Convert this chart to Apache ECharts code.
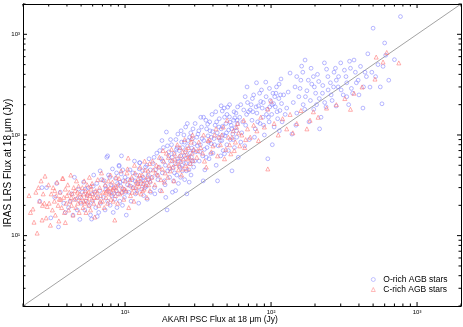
<!DOCTYPE html>
<html>
<head>
<meta charset="utf-8">
<script src="https://cdn.jsdelivr.net/npm/echarts@6/dist/echarts.min.js"></script>
<style>
html, body { margin: 0; padding: 0; background: #fff; }
#chart { width: 463px; height: 327px; }
</style>
</head>
<body>
<div id="chart"></div>
<script>
// AKARI 18um flux (x) vs IRAS LRS 18um flux (y), Jy
var oRich = [
  [2.7,30],[2.9,30],[3.1,15],[3.5,12.2],[3.3,24],[3.8,21],[3.6,27],[2.6,22],[3.9,17],[3.4,33],
  [4.1,19],[4.3,26],[4.4,16],[4.6,23],[4.8,29],[4.9,14.5],[5.0,21],[5.2,34],[5.3,18],[5.5,25],
  [5.6,30],[5.8,16],[5.9,14.6],[6.0,22],[6.1,40],[6.2,27],[6.3,19],[6.4,33],[6.5,24],[6.6,17],
  [6.7,28],[6.8,21],[6.9,36],[4.5,38],[5.1,27],[5.4,22],[5.7,20],[6.05,31],[4.2,22],[4.7,18],
  [5.95,26],[6.45,15.5],[6.75,44],[4.95,24],[5.35,29],
  [7.1,24],[7.2,35],[7.3,18],[7.4,29],[7.5,60],[7.6,22],[7.7,40],[7.8,27],[7.9,20],[8.0,32],
  [8.1,25],[8.2,46],[8.3,17],[8.4,30],[8.5,23],[8.6,37],[8.7,28],[8.8,19],[8.9,33],[9.0,26],
  [9.1,50],[9.2,22],[9.3,31],[9.4,41],[9.5,27],[9.6,20],[9.7,35],[9.8,29],[9.9,24],[10.0,38],
  [10.2,16],[10.4,32],[10.6,27],[10.8,45],[11.0,22],[11.2,36],[11.4,30],[11.6,55],[11.8,26],[12.0,40],
  [12.2,33],[12.4,21],[12.6,53],[12.8,37],[13.0,29],[13.2,44],[13.4,25],[13.6,35],[13.8,48],[14.0,31],
  [14.2,23],[14.4,40],[14.6,58],[14.8,34],[15.0,27],[7.35,31],[7.85,38],[8.35,26],[8.75,42],[9.25,34],
  [9.65,45],[10.1,27],[10.5,36],[10.9,31],[11.3,42],[11.7,35],[12.1,28],[12.5,46],[12.9,33],[13.3,38],
  [13.7,30],[14.1,50],[14.5,36],[14.9,45],[9.45,62],[7.6,62],[9.1,49],[12.6,53],
  [15.3,38],[15.6,52],[15.9,30],[16.2,45],[16.5,66],[16.8,36],[17.1,48],[17.4,28],[17.7,58],[18.0,42],
  [18.3,75],[18.6,35],[18.9,50],[19.2,107],[19.4,18],[19.6,44],[19.9,62],[20.2,38],[20.5,55],[20.8,80],
  [21.1,27],[21.4,47],[21.7,66],[22.0,52],[22.3,90],[22.6,40],[22.9,58],[23.2,33],[23.5,70],[23.8,48],
  [24.1,62],[24.4,85],[24.7,44],[25.0,56],[25.3,100],[25.6,36],[25.9,68],[26.2,52],[26.5,26],[26.8,78],
  [27.1,60],[27.4,45],[27.7,95],[28.0,66],[28.3,40],[28.6,74],[28.9,55],[29.2,115],[29.5,48],[29.8,82],
  [15.8,60],[16.6,40],[17.3,70],[18.1,55],[18.8,32],[19.5,78],[20.3,46],[21.0,60],[21.8,42],[22.5,72],
  [23.3,55],[24.0,38],[24.8,75],[25.5,62],[26.3,44],[27.0,88],[27.8,52],[28.5,60],[29.3,70],[16.0,26],
  [17.9,88],[20.0,68],[21.5,35],[23.0,102],[24.5,50],[26.0,120],[27.5,34],[29.0,92],[22.2,28],[19.0,24],
  [20.5,90],[22.8,75],[25.5,85],[28.2,105],[26.7,130],[24.2,110],
  [30.5,68],[31.0,95],[31.6,102],[32.2,55],[32.8,80],[33.4,120],[34.0,62],[34.6,88],[35.2,45],[35.8,140],
  [36.4,75],[37.0,98],[37.6,58],[38.2,110],[38.8,82],[39.4,160],[40.0,66],[40.7,92],[41.4,125],[42.1,50],
  [42.8,105],[43.5,78],[44.2,145],[44.9,88],[45.6,115],[46.3,173],[47.0,70],[47.7,185],[48.4,98],[49.1,130],
  [49.8,80],[50.5,189],[51.2,112],[51.9,151],[52.6,90],[53.3,125],[54.0,44],[54.7,102],[55.4,140],[56.1,75],
  [56.8,118],[57.5,165],[58.2,95],[58.9,130],[59.6,60],[31.3,78],[32.5,68],[33.7,92],[35.0,72],[36.2,115],
  [37.4,85],[38.6,65],[39.8,108],[41.0,80],[42.4,135],[43.8,95],[45.2,62],[46.6,122],[48.0,150],[49.5,105],
  [51.0,70],[52.3,134],[53.8,115],[55.0,90],[56.5,148],[58.0,110],[59.0,190],[34.3,35],[43.0,35],[46.0,88],
  [30.2,130],[32,110],[34.5,150],[36.8,128],[39,95],[41.8,170],[44,120],[46.8,100],[49.9,160],[52,200],
  [55.8,170],[58.5,140],[45.5,195],[38,135],[33,150],[30,55],[36,60],[48,65],
  [61,150],[63,105],[65,177],[67,125],[69,210],[71,90],[72,177],[74,140],[76,250],[78,115],
  [80,165],[82,195],[84,130],[86,280],[88,150],[90,100],[92,335],[94,180],[95,58],[97,135],
  [99,220],[101,160],[103,260],[105,120],[107,190],[109,300],[111,145],[113,230],[115,175],[117,360],
  [119,135],[64,135],[68,160],[73,200],[77,95],[81,135],[85,215],[89,125],[93,160],[98,190],
  [102,80],[106,240],[110,170],[114,110],[118,205],[66,78],[75,170],[87,185],[96,150],[104,205],
  [62,200],[66.5,240],[70,170],[74.5,230],[79,190],[83.5,260],[88.5,210],[92.5,240],[97.5,290],[101.5,200],
  [108,260],[113.5,320],[116,250],[68.5,300],[79.5,330],[62,85],
  [122,250],[128,185],[131,267],[135,412],[139,102],[142,210],[146,300],[150,165],[155,240],[160,350],
  [162,483],[166,200],[171,555],[176,275],[182,135],[186,220],[190,320],[196,180],[202,260],[208,400],
  [214,230],[220,150],[226,310],[233,210],[240,450],[246,280],[125,160],[148,125],[170,180],[195,380],
  [215,115],[238,190],
  [150,380],[158,290],[165,420],[172,240],[180,350],[188,460],[198,300],[205,200],[212,340],[225,260],
  [232,520],[245,380],
  [255,330],[262,220],[270,420],[279,194],[288,300],[300,520],[312,250],[326,380],[340,200],[355,290],
  [370,555],[384,330],[400,250],[426,185],[440,420],[476,299],[500,1150],[520,380],[575,204],[600,820],
  [585,480],[640,350],[700,560],[770,1500],[460,640],[350,460],
  [258,250],[268,300],[276,460],[290,380],[302,280],[318,440],[330,330],[345,540],[362,260],[378,420],
  [395,350],[410,480],[430,300],[450,380],[490,420],[540,500],[560,300],[610,620],[330,240],[280,350]
];

var cRich = [
  [2.25,17],[2.34,18.4],[2.38,13.6],[2.45,27],[2.5,10.6],[2.55,30],[2.66,35],[2.7,14.3],[2.75,26],[2.83,39],
  [2.88,15],[2.93,19.5],[2.99,32],[2.6,22],[2.8,21],[2.2,25],[2.72,20],
  [3.02,21],[3.08,12.7],[3.12,26],[3.18,18],[3.22,30],[3.28,22],[3.33,16],[3.38,25],[3.42,34],[3.48,20],
  [3.52,14],[3.58,27],[3.62,23],[3.68,19],[3.72,37],[3.76,37],[3.8,24],[3.85,17],[3.9,29],[3.95,21],
  [4.0,25],[4.05,32],[4.1,18],[4.15,27],[4.2,22],[4.25,40],[4.3,20],[4.35,26],[4.4,16],[4.45,30],
  [4.5,23],[4.55,28],[4.6,19],[4.65,35],[4.7,24],[4.75,21],[4.8,31],[4.85,17],[4.9,26],[4.95,22],
  [3.3,28],[3.55,23],[3.9,13.5],[4.28,24],[4.72,27],
  [5.05,24],[5.1,30],[5.15,19],[5.2,26],[5.25,35],[5.3,21],[5.35,28],[5.4,17],[5.45,24],[5.5,32],
  [5.55,22],[5.6,27],[5.65,20],[5.7,38],[5.75,25],[5.8,18],[5.85,29],[5.9,23],[5.95,33],[6.0,26],
  [6.1,21],[6.2,15.3],[6.3,28],[6.4,24],[6.5,36],[6.6,20],[6.7,30],[6.8,25],[6.9,42],[7.0,22],
  [7.1,27],[7.2,19],[7.3,32],[7.4,24],[7.5,28],[7.6,21],[7.7,35],[7.8,26],[7.9,30],[8.0,23],
  [5.22,22],[5.52,26],[5.82,31],[6.15,24],[6.45,27],[6.75,22],[7.05,36],[7.35,27],[7.65,29],[7.95,40],
  [8.1,27],[8.2,34],[8.3,22],[8.4,30],[8.5,14.3],[8.6,25],[8.7,38],[8.8,28],[8.9,21],[9.0,32],
  [9.2,26],[9.4,44],[9.6,30],[9.8,23],[10.0,35],[10.2,28],[10.5,59],[10.7,32],[10.9,25],[11.1,38],
  [11.3,30],[11.5,22],[11.7,42],[11.9,34],[12.1,27],[12.3,37],[12.5,31],[12.7,48],[12.9,26],[13.1,40],
  [13.3,33],[13.5,29],[13.7,45],[13.9,36],[14.1,24],[14.3,39],[14.5,32],[14.7,52],[14.9,35],[8.25,29],
  [8.65,31],[9.1,37],[9.5,27],[9.9,29],[10.3,42],[10.8,36],[11.2,27],[11.8,30],[12.2,33],[12.8,35],
  [13.2,28],[13.8,32],[14.4,44],[14.8,28],[10.6,19],
  [10.4,46],[11.6,50],[12.6,40],[13.6,55],
  [15.2,38],[15.6,45],[16.0,32],[16.4,50],[16.8,40],[17.2,60],[17.6,36],[18.0,46],[18.4,55],[18.8,42],
  [19.2,66],[19.6,38],[20.0,50],[20.4,44],[20.8,72],[21.2,48],[21.6,35],[22.0,58],[22.4,52],[22.8,80],
  [23.2,45],[23.6,62],[24.0,55],[24.4,40],[24.8,68],[25.2,58],[25.6,90],[26.0,50],[26.4,64],[26.8,46],
  [27.2,75],[27.6,60],[28.0,52],[28.4,85],[28.8,66],[29.2,56],[29.6,72],[16.2,42],[18.6,34],[21.0,56],
  [23.5,50],[25.0,46],[27.0,58],[29.0,100],[17.8,28],
  [15.4,55],[17.0,48],[18.2,70],[19.8,60],[21.8,65],[23.8,75],[26.2,72],[28.6,92],
  [31,60],[33,75],[35,55],[37,88],[39,68],[41,100],[43,62],[45,80],[47,120],[49,72],
  [51,95],[53,65],[55,110],[57,85],[59,130],[61,78],[63,100],[65,140],[67,90],[69,115],
  [32,85],[36,48],[40,78],[44,95],[48,58],[52,80],[56,70],[60,105],[66,75],[34,66],
  [31.5,70],[34.5,100],[38,90],[42,115],[46,100],[50,140],[54,95],[58,120],
  [72,95],[76,125],[80,110],[85,150],[90,120],[95,181],[95,46],[100,217],[105,130],[112,100],
  [120,145],[128,115],[135,160],[141,105],[150,130],[160,175],[176,115],[185,140],[195,170],[82,88],
  [210,150],[240,185],[280,200],[320,230],[370,260],[420,300],[515,359],[525,594],[585,530],[620,660],
  [750,520],[350,180]
];

var diagonal = [[2, 2], [2000, 2000]];
var tickValues = [2,3,4,5,6,7,8,9,10,20,30,40,50,60,70,80,90,100,200,300,400,500,600,700,800,900,1000,2000];
var labelValues = [10, 100, 1000];
var sup = ['\u2070', '\u00b9', '\u00b2', '\u00b3'];

var chart = echarts.init(document.getElementById('chart'), null, { renderer: 'canvas' });

var logAxis = (pos, withLabels) => ({
  type: 'log',
  logBase: 10,
  min: 2,
  max: 2000,
  position: pos,
  nameMoveOverlap: false,
  axisLine: { show: true, onZero: false, lineStyle: { color: '#000', width: 1 } },
  axisTick: { show: false },
  axisLabel: {
    show: withLabels,
    customValues: labelValues,
    formatter: v => '10' + sup[Math.round(Math.log10(v))],
    fontSize: 6,
    margin: 3,
    color: '#000',
    fontFamily: 'Liberation Sans'
  },
  splitLine: { show: false },
  minorTick: { show: false }
});

var xBottom = logAxis('bottom', true);
xBottom.name = 'AKARI PSC Flux at 18 \u03bcm (Jy)';
xBottom.nameLocation = 'middle';
xBottom.nameGap = 9;
xBottom.nameTextStyle = { fontSize: 8.5, color: '#000', fontFamily: 'Liberation Sans', padding: [0, 44, 0, 0] };
var xTop = logAxis('top', false);

var yLeft = logAxis('left', true);
yLeft.name = 'IRAS LRS Flux at 18 \u03bcm (Jy)';
yLeft.nameLocation = 'middle';
yLeft.nameGap = 10;
yLeft.nameTextStyle = { fontSize: 10, color: '#000', fontFamily: 'Liberation Sans', padding: [0, 16, 0, 0] };
var yRight = logAxis('right', false);

// inward ticks on all four sides, placed through the axis scales
var tickSeries = {
  type: 'custom',
  silent: true,
  clip: false,
  z: 5,
  data: tickValues.map(v => [v, v]),
  renderItem: (params, api) => {
    var v = api.value(0);
    var cs = params.coordSys;
    var px = api.coord([v, 2])[0];
    var py = api.coord([2, v])[1];
    var major = labelValues.indexOf(v) >= 0;
    var len = major ? 4 : 2.5;
    var st = { stroke: '#000', lineWidth: 1 };
    var l = cs.x, r = cs.x + cs.width, t = cs.y, b = cs.y + cs.height;
    return {
      type: 'group',
      children: [
        { type: 'line', shape: { x1: px, y1: b, x2: px, y2: b - len }, style: st },
        { type: 'line', shape: { x1: px, y1: t, x2: px, y2: t + len }, style: st },
        { type: 'line', shape: { x1: l, y1: py, x2: l + len, y2: py }, style: st },
        { type: 'line', shape: { x1: r, y1: py, x2: r - len, y2: py }, style: st }
      ]
    };
  }
};

var option = {
  animation: false,
  backgroundColor: '#fff',
  grid: { left: 23, right: 2, top: 4, bottom: 21, containLabel: false, outerBoundsMode: 'none' },
  xAxis: [xBottom, xTop],
  yAxis: [yLeft, yRight],
  legend: {
    data: ['O-rich AGB stars', 'C-rich AGB stars'],
    orient: 'vertical',
    left: 366,
    top: 270,
    itemWidth: 4,
    itemHeight: 4,
    itemGap: 1,
    itemStyle: { borderWidth: 0.6 },
    textStyle: { fontSize: 8.5, color: '#000', fontFamily: 'Liberation Sans', padding: [0, 0, 0, 3] }
  },
  series: [
    {
      name: 'y = x',
      type: 'line',
      data: diagonal,
      symbol: 'none',
      silent: true,
      z: 1,
      lineStyle: { color: '#8c8c8c', width: 0.8 }
    },
    {
      name: 'O-rich AGB stars',
      type: 'scatter',
      data: oRich,
      symbol: 'circle',
      symbolSize: 3.8,
      z: 2,
      itemStyle: { color: 'rgba(0,0,0,0)', borderColor: '#8080ff', borderWidth: 0.7 }
    },
    {
      name: 'C-rich AGB stars',
      type: 'scatter',
      data: cRich,
      symbol: 'triangle',
      symbolSize: 4,
      z: 3,
      itemStyle: { color: 'rgba(0,0,0,0)', borderColor: '#ff6f6f', borderWidth: 0.7 }
    },
    tickSeries
  ]
};

chart.setOption(option);
</script>
</body>
</html>
